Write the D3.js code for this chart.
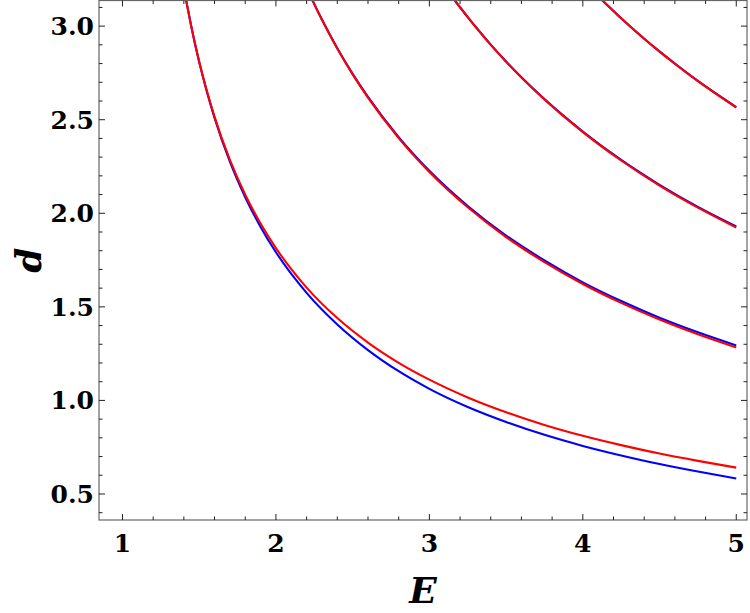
<!DOCTYPE html>
<html><head><meta charset="utf-8">
<script src="https://cdn.jsdelivr.net/npm/d3@7"></script>
<style>body{margin:0;background:#fff}svg{display:block}</style>
</head><body>
<svg id="c" width="750" height="613"></svg>
<script>
// ---- data ----
const E1 = [1.40,1.42,1.45,1.50,1.55,1.60,1.70,1.80,1.90,2.00,2.20,2.40,2.60,2.80,3.00,3.25,3.50,3.75,4.00,4.25,4.50,4.75,5.00];
const red1  = [3.206,3.116,2.992,2.810,2.653,2.515,2.285,2.099,1.945,1.814,1.603,1.440,1.309,1.201,1.111,1.016,0.937,0.869,0.811,0.761,0.716,0.677,0.641];
const blue1 = [3.206,3.116,2.991,2.808,2.650,2.510,2.276,2.086,1.927,1.792,1.575,1.406,1.269,1.156,1.062,0.965,0.885,0.816,0.757,0.706,0.660,0.620,0.583];

const E2 = [2.22,2.24,2.27,2.30,2.35,2.40,2.50,2.60,2.80,3.00,3.25,3.50,3.75,4.00,4.25,4.50,4.75,5.00];
const red2  = [3.170,3.135,3.083,3.034,2.955,2.880,2.742,2.618,2.402,2.221,2.032,1.873,1.739,1.622,1.521,1.432,1.353,1.283];
const blue2 = [3.170,3.135,3.084,3.035,2.957,2.882,2.745,2.622,2.407,2.227,2.039,1.881,1.748,1.631,1.531,1.442,1.364,1.294];

const E3 = [3.15,3.17,3.20,3.25,3.30,3.40,3.50,3.60,3.75,4.00,4.25,4.50,4.75,5.00];
const red3  = [3.155,3.133,3.101,3.048,2.997,2.900,2.810,2.725,2.608,2.434,2.282,2.148,2.030,1.924];
const blue3 = [3.155,3.133,3.101,3.048,2.998,2.901,2.811,2.727,2.610,2.437,2.285,2.152,2.034,1.929];

const E4 = [4.11,4.13,4.15,4.20,4.25,4.30,4.40,4.50,4.60,4.75,5.00];
const red4  = [3.152,3.136,3.120,3.081,3.042,3.005,2.933,2.864,2.799,2.706,2.565];
const blue4 = [3.152,3.136,3.120,3.081,3.042,3.005,2.933,2.865,2.800,2.707,2.567];

const xMajor = [1,2,3,4,5];
const yMajor = [0.5,1.0,1.5,2.0,2.5,3.0];
const xTitle = "E", yTitle = "d";

// ---- drawing ----
const svg = d3.select("#c");
const L = 99, R = 747, T = 0.5, B = 520;
const x = d3.scaleLinear().domain([0.847, 5.070]).range([L, R]);
const y = d3.scaleLinear().domain([0.361, 3.137]).range([B, T]);

svg.append("defs").append("clipPath").attr("id","clip")
  .append("rect").attr("x",L).attr("y",0).attr("width",R-L).attr("height",B);

const line = d3.line().x(d=>x(d[0])).y(d=>y(d[1])).curve(d3.curveMonotoneX);
const g = svg.append("g").attr("clip-path","url(#clip)");
const sets = [[E1,blue1,red1],[E2,blue2,red2],[E3,blue3,red3],[E4,blue4,red4]];
sets.forEach(([E,b])=>{
  g.append("path").datum(E.map((e,i)=>[e,b[i]])).attr("d",line)
   .attr("fill","none").attr("stroke","#0000ff").attr("stroke-width",2.1);
});
sets.forEach(([E,b,r])=>{
  g.append("path").datum(E.map((e,i)=>[e,r[i]])).attr("d",line)
   .attr("fill","none").attr("stroke","#ff0000").attr("stroke-width",2.1);
});

// frame
svg.append("rect").attr("x",L).attr("y",T).attr("width",R-L).attr("height",B-T)
  .attr("fill","none").attr("stroke","#666").attr("stroke-width",1.2);

// ticks
const xMinor = d3.range(0.8, 5.1, 0.2).filter(v=>v>0.847 && v<5.07);
const yMinor = d3.range(0.4, 3.15, 0.1).filter(v=>v>0.361 && v<3.137);
const tk = svg.append("g").attr("stroke","#222").attr("stroke-width",1);
xMinor.forEach(v=>{
  const isM = xMajor.some(m=>Math.abs(m-v)<1e-6);
  const len = isM?6:3.5;
  tk.append("line").attr("x1",x(v)).attr("x2",x(v)).attr("y1",B).attr("y2",B-len);
  tk.append("line").attr("x1",x(v)).attr("x2",x(v)).attr("y1",T).attr("y2",T+len);
});
yMinor.forEach(v=>{
  const isM = yMajor.some(m=>Math.abs(m-v)<1e-6);
  const len = isM?6:3.5;
  tk.append("line").attr("y1",y(v)).attr("y2",y(v)).attr("x1",L).attr("x2",L+len);
  tk.append("line").attr("y1",y(v)).attr("y2",y(v)).attr("x1",R).attr("x2",R-len);
});

const font = "'DejaVu Serif', serif";
xMajor.forEach(v=>{
  svg.append("text").attr("x",x(v)).attr("y",552).attr("text-anchor","middle")
    .attr("font-family",font).attr("font-weight","bold").attr("font-size",25).text(v);
});
yMajor.forEach(v=>{
  svg.append("text").attr("x",94).attr("y",y(v)).attr("dy","0.36em").attr("text-anchor","end")
    .attr("font-family",font).attr("font-weight","bold").attr("font-size",25).text(v.toFixed(1));
});
svg.append("text").attr("x",(L+R)/2).attr("y",603).attr("text-anchor","middle")
  .attr("font-family",font).attr("font-weight","bold").attr("font-style","italic")
  .attr("font-size",36).text(xTitle);
svg.append("text").attr("transform",`translate(41,${(B+T)/2}) rotate(-90)`).attr("text-anchor","middle")
  .attr("font-family",font).attr("font-weight","bold").attr("font-style","italic")
  .attr("font-size",36).text(yTitle);
</script>
</body></html>
